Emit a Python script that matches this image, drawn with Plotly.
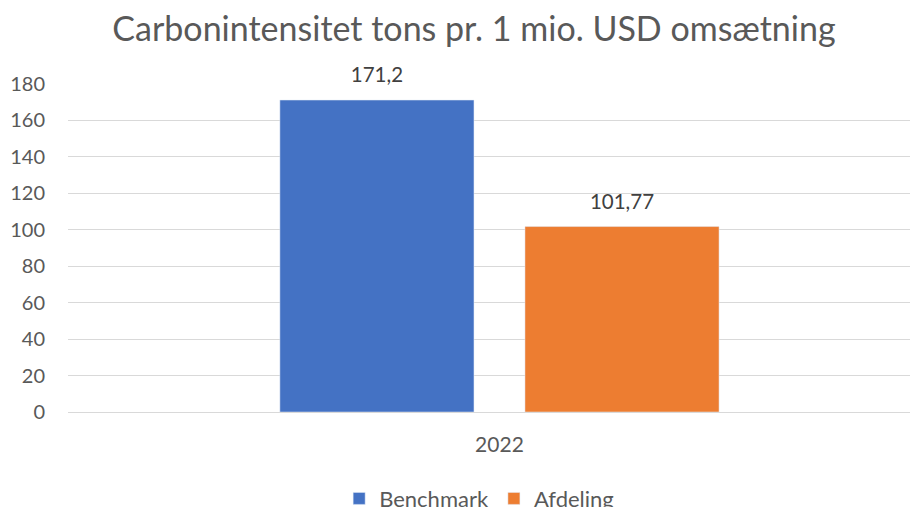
import plotly.graph_objects as go

categories = ["2022"]
series_names = ["Benchmark", "Afdeling"]
benchmark = [171.2]
afdeling = [101.77]
colors = ["#4472C4", "#ED7D31"]
y_ticks = [0, 20, 40, 60, 80, 100, 120, 140, 160, 180]

def lbl(vals):
    return [str(v).replace(".", ",") for v in vals]

FONT = "Lato, Calibri, Carlito, sans-serif"

fig = go.Figure()
all_series = [benchmark, afdeling]
for name, vals, col in zip(series_names, all_series, colors):
    fig.add_trace(go.Bar(x=categories, y=vals, name=name, marker_color=col,
                         offsetgroup=name))
for name, vals in zip(series_names, all_series):
    fig.add_trace(go.Scatter(x=categories, y=vals, mode="markers+text", text=lbl(vals),
                             textposition="top center", offsetgroup=name,
                             showlegend=False, hoverinfo="skip", cliponaxis=False,
                             marker=dict(size=19, opacity=0),
                             textfont=dict(size=20.5, color="#404040", family=FONT)))

fig.update_layout(
    width=918, height=507,
    margin=dict(l=60, r=8, t=76, b=103, autoexpand=False),
    paper_bgcolor="white", plot_bgcolor="white",
    barmode="group", bargap=0.432, bargroupgap=0.208,
    scattermode="group", scattergap=0.432,
    title=dict(text="Carbonintensitet tons pr. 1 mio. USD omsætning",
               x=0.5076, xanchor="center", y=0.958, yanchor="middle",
               font=dict(size=34, color="#595959", family=FONT)),
    font=dict(family=FONT, color="#595959", size=20),
    showlegend=True,
    legend=dict(orientation="h", x=0.4837, xanchor="center", y=-0.2, yanchor="top",
                font=dict(size=22, color="#595959"), itemwidth=30),
    xaxis=dict(type="category", range=[-0.5, 0.485], showgrid=False, automargin=False,
               showline=False, ticks="", ticklabelstandoff=18,
               tickfont=dict(size=21, color="#595959")),
    yaxis=dict(range=[0, 180], tickvals=y_ticks, showgrid=True, gridcolor="#D9D9D9",
               gridwidth=1, zeroline=True, zerolinecolor="#D9D9D9", zerolinewidth=1,
               showline=False, ticks="", ticklabelstandoff=22, automargin=False,
               tickfont=dict(size=20, color="#595959")),
)

fig.write_html("out.html")
